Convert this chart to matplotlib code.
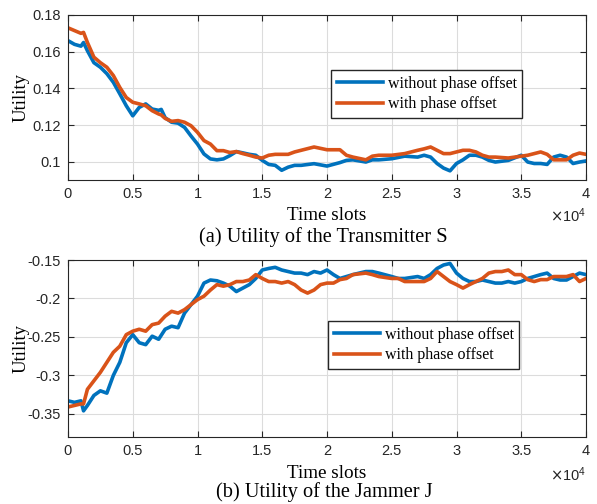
import matplotlib
matplotlib.use("Agg")
import matplotlib.pyplot as plt
import numpy as np
from matplotlib.ticker import FuncFormatter

# time axis in units of 1e4 slots
t_a = [0, 0.05, 0.1, 0.12, 0.15, 0.2, 0.25, 0.3, 0.35, 0.4, 0.45, 0.5, 0.55, 0.6, 0.65, 0.7, 0.72,
       0.75, 0.8, 0.85, 0.9, 0.95, 1.0, 1.05, 1.1, 1.15, 1.2, 1.25, 1.3, 1.35, 1.4, 1.45, 1.5, 1.55,
       1.6, 1.65, 1.7, 1.75, 1.8, 1.9, 2.0, 2.1, 2.15, 2.2, 2.3, 2.35, 2.4, 2.5, 2.6, 2.7, 2.75, 2.8,
       2.85, 2.9, 2.95, 3.0, 3.05, 3.1, 3.15, 3.2, 3.25, 3.3, 3.4, 3.5, 3.55, 3.6, 3.65, 3.7, 3.75,
       3.8, 3.85, 3.9, 3.95, 4.0]
s_without = [0.166, 0.164, 0.163, 0.165, 0.1605, 0.154, 0.1515, 0.148, 0.1433, 0.137, 0.1305, 0.125,
             0.1296, 0.1315, 0.1287, 0.128, 0.1285, 0.124, 0.1215, 0.121, 0.1187, 0.114, 0.1096,
             0.1042, 0.1015, 0.101, 0.1015, 0.1033, 0.1055, 0.1048, 0.104, 0.1035, 0.1007, 0.0985,
             0.098, 0.0953, 0.097, 0.098, 0.098, 0.0989, 0.0976, 0.0995, 0.1007, 0.101, 0.0998,
             0.101, 0.101, 0.1016, 0.103, 0.1025, 0.1035, 0.1025, 0.099, 0.0965, 0.095, 0.099, 0.101,
             0.1035, 0.1035, 0.1025, 0.1007, 0.0998, 0.1007, 0.1035, 0.0998, 0.099, 0.099, 0.0985,
             0.1025, 0.1035, 0.1025, 0.099, 0.0998, 0.1004]
s_with = [0.173, 0.1715, 0.170, 0.1705, 0.165, 0.157, 0.154, 0.1515, 0.147, 0.1405, 0.135, 0.1324,
          0.1315, 0.1305, 0.1278, 0.126, 0.1255, 0.1236, 0.122, 0.1224, 0.1215, 0.1196, 0.116,
          0.1115, 0.1096, 0.106, 0.106, 0.105, 0.1055, 0.1044, 0.1035, 0.1025, 0.102, 0.1035,
          0.104, 0.104, 0.104, 0.1053, 0.1062, 0.108, 0.1065, 0.1065, 0.1035, 0.1025, 0.101,
          0.103, 0.1035, 0.1035, 0.1044, 0.1062, 0.107, 0.108, 0.1062, 0.1044, 0.1044, 0.1053,
          0.1062, 0.1062, 0.1053, 0.1035, 0.1025, 0.1025, 0.102, 0.103, 0.1035, 0.1044, 0.1053,
          0.104, 0.101, 0.101, 0.101, 0.1035, 0.1047, 0.104]

t_b = [0, 0.05, 0.1, 0.12, 0.15, 0.2, 0.25, 0.3, 0.35, 0.4, 0.45, 0.5, 0.55, 0.6, 0.65, 0.7, 0.75,
       0.8, 0.85, 0.9, 0.95, 1.0, 1.05, 1.1, 1.15, 1.2, 1.25, 1.3, 1.35, 1.4, 1.45, 1.5, 1.55, 1.6,
       1.65, 1.7, 1.75, 1.8, 1.85, 1.9, 1.95, 2.0, 2.05, 2.1, 2.15, 2.2, 2.3, 2.35, 2.4, 2.5, 2.55,
       2.6, 2.7, 2.75, 2.8, 2.85, 2.9, 2.95, 3.0, 3.05, 3.1, 3.15, 3.2, 3.25, 3.3, 3.35, 3.4, 3.45,
       3.5, 3.55, 3.6, 3.65, 3.7, 3.75, 3.8, 3.85, 3.9, 3.95, 4.0]
j_without = [-0.333, -0.335, -0.333, -0.346, -0.339, -0.326, -0.32, -0.323, -0.3, -0.283, -0.2575,
             -0.247, -0.2575, -0.26, -0.249, -0.253, -0.24, -0.236, -0.238, -0.219, -0.208, -0.197,
             -0.18, -0.176, -0.177, -0.18, -0.184, -0.191, -0.1865, -0.182, -0.174, -0.163, -0.161,
             -0.1595, -0.163, -0.165, -0.167, -0.167, -0.169, -0.165, -0.167, -0.163, -0.169, -0.174,
             -0.1715, -0.169, -0.165, -0.165, -0.167, -0.1715, -0.174, -0.174, -0.1715, -0.174,
             -0.169, -0.161, -0.1565, -0.1545, -0.167, -0.174, -0.178, -0.178, -0.176, -0.178, -0.18,
             -0.18, -0.178, -0.18, -0.178, -0.174, -0.1715, -0.169, -0.167, -0.174, -0.176, -0.176,
             -0.1715, -0.167, -0.169]
j_with = [-0.341, -0.339, -0.337, -0.337, -0.318, -0.307, -0.296, -0.283, -0.27, -0.262, -0.247,
          -0.2425, -0.24, -0.2425, -0.234, -0.232, -0.223, -0.2167, -0.219, -0.2145, -0.208, -0.2015,
          -0.197, -0.189, -0.182, -0.184, -0.182, -0.178, -0.178, -0.176, -0.169, -0.174, -0.178,
          -0.178, -0.18, -0.178, -0.182, -0.189, -0.193, -0.189, -0.182, -0.18, -0.18, -0.1755,
          -0.174, -0.169, -0.167, -0.169, -0.1715, -0.174, -0.174, -0.178, -0.178, -0.178, -0.174,
          -0.165, -0.1715, -0.178, -0.182, -0.1865, -0.182, -0.178, -0.174, -0.167, -0.165, -0.165,
          -0.163, -0.169, -0.169, -0.1755, -0.178, -0.1755, -0.1755, -0.1715, -0.1715, -0.1715,
          -0.169, -0.178, -0.174]

labels = ["without phase offset", "with phase offset"]
colors = ["#0072BD", "#D95319"]

serif = "Liberation Serif"
sans = "Liberation Sans"

fig = plt.figure(figsize=(5.97, 5.04), dpi=100)
W, H = 597, 504


def box(l, t, r, b):
    return [l / W, 1 - b / H, (r - l) / W, (b - t) / H]


def style(ax, ylim, yticks):
    ax.set_xlim(0, 40000)
    ax.set_ylim(*ylim)
    ax.set_xticks(np.arange(0, 40001, 5000))
    ax.set_yticks(yticks)
    ax.xaxis.set_major_formatter(FuncFormatter(lambda v, p: "%g" % (v / 1e4)))
    ax.yaxis.set_major_formatter(FuncFormatter(lambda v, p: "%g" % round(v, 4)))
    ax.grid(True, color="#dcdcdc", lw=0.8)
    ax.set_axisbelow(True)
    ax.tick_params(direction="in", top=True, right=True, length=4, width=0.8,
                   colors="#262626", labelsize=10.5, pad=5)
    for lab in ax.get_xticklabels() + ax.get_yticklabels():
        lab.set_fontfamily(sans)
    for sp in ax.spines.values():
        sp.set_color("#262626")
        sp.set_linewidth(0.8)
    ax.set_ylabel("Utility", fontfamily=serif, fontsize=13.5)
    ax.yaxis.set_label_coords(-0.074, 0.5)
    ax.text(1.0, -0.16, r"$\times\mathregular{10^4}$", transform=ax.transAxes,
            ha="right", va="top", fontsize=10.5, color="#262626", fontfamily=sans)


def legend(ax, anchor):
    ax.legend(loc="upper left", bbox_to_anchor=anchor, prop={"family": serif, "size": 11.5},
              fancybox=False, edgecolor="#262626", framealpha=1, borderaxespad=0,
              handlelength=2.9, handletextpad=0.3, labelspacing=0.3, borderpad=0.35)


# (a) transmitter
ax1 = fig.add_axes(box(68, 15, 586, 180))
ax1.plot(np.array(t_a) * 1e4, s_without, color=colors[0], lw=2.6, label=labels[0])
ax1.plot(np.array(t_a) * 1e4, s_with, color=colors[1], lw=2.6, label=labels[1])
style(ax1, (0.09, 0.18), [0.1, 0.12, 0.14, 0.16, 0.18])
legend(ax1, (0.508, 0.667))
fig.text(327 / W, 1 - 216 / H, "Time slots", ha="center", va="center", fontfamily=serif, fontsize=13.8)
fig.text(323 / W, 1 - 237 / H, "(a) Utility of the Transmitter S", ha="center", va="center",
         fontfamily=serif, fontsize=14.7)

# (b) jammer
ax2 = fig.add_axes(box(68, 260, 586, 437))
ax2.plot(np.array(t_b) * 1e4, j_without, color=colors[0], lw=2.6, label=labels[0])
ax2.plot(np.array(t_b) * 1e4, j_with, color=colors[1], lw=2.6, label=labels[1])
style(ax2, (-0.38, -0.15), [-0.35, -0.3, -0.25, -0.2, -0.15])
legend(ax2, (0.502, 0.655))
fig.text(327 / W, 1 - 474 / H, "Time slots", ha="center", va="center", fontfamily=serif, fontsize=13.8)
fig.text(324 / W, 1 - 492 / H, "(b) Utility of the Jammer J", ha="center", va="center",
         fontfamily=serif, fontsize=14.7)

fig.savefig("out.png", dpi=100)
